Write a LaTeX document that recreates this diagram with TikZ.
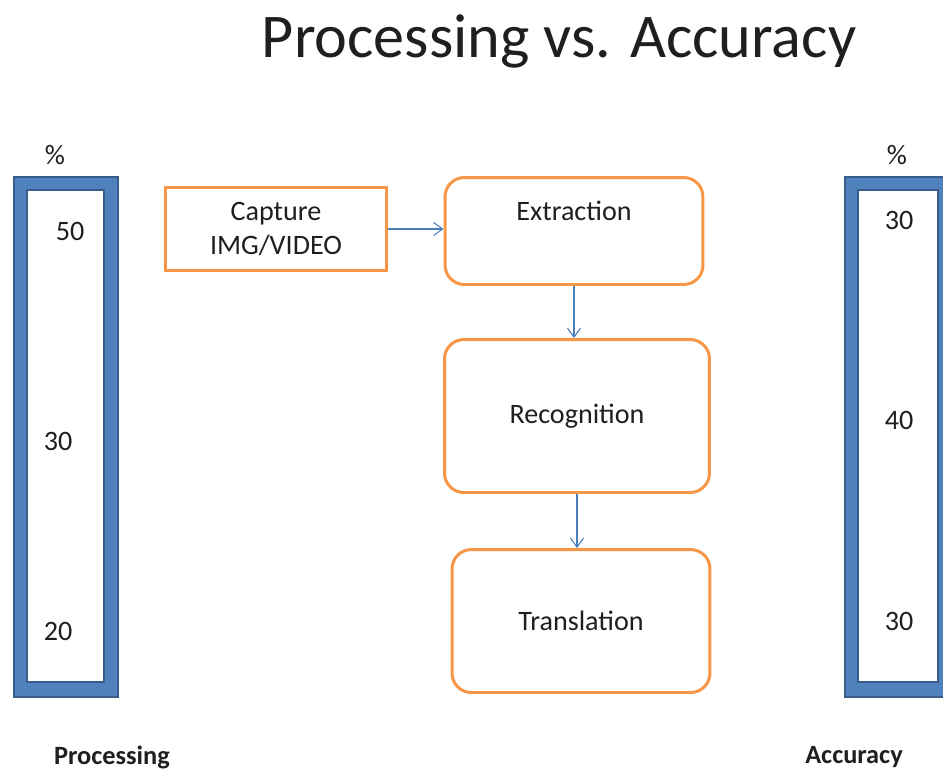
\documentclass[tikz,border=0pt]{standalone}
\usepackage{fontspec}
\setmainfont{Carlito}
\usetikzlibrary{arrows.meta,positioning}
\definecolor{ink}{HTML}{1F1F1F}
\definecolor{stepline}{HTML}{F79646}
\definecolor{barblue}{HTML}{4F81BD}
\definecolor{bardark}{HTML}{385D8A}
\definecolor{flowblue}{HTML}{4A7EBB}
\tikzset{
  every node/.style={font=\fontsize{16}{19}\selectfont, text=ink},
  capbox/.style={draw=stepline, line width=1.7pt, fill=white, align=center,
                 minimum width=4.42cm, minimum height=1.66cm},
  stagebox/.style={capbox, rounded corners=11pt},
  barframe/.style={fill=barblue, draw=bardark, line width=0.6pt, even odd rule},
  num/.style={font=\fontsize{16}{19}\selectfont},
  axis/.style={font=\bfseries\fontsize{15}{18}\selectfont},
  flow/.style={-{Straight Barb[length=1.8mm, width=2.6mm]}, draw=flowblue, line width=0.6pt},
}
\begin{document}
\begin{tikzpicture}[x=0.02cm, y=-0.02cm]
\clip (0,0) rectangle (943,772);
\fill[white] (0,0) rectangle (943,772);

\node[font=\fontsize{35.4}{42}\selectfont] (title) at (559,41) {Processing vs. Accuracy};

% --- processing bar ---
\filldraw[barframe] (14,177) rectangle (118,697) (27,190) rectangle (104,682);
\node[num] (ppct) at (55,155) {\%};
\node[num] (p50) at (70,231) {50};
\node[num] (p30) at (58,441) {30};
\node[num] (p20) at (58,631) {20};
\node[axis] (plabel) at (112,757) {Processing};

% --- accuracy bar ---
\filldraw[barframe] (845,177) rectangle (952,697) (858,190) rectangle (938,682);
\node[num] (apct) at (897,155) {\%};
\node[num] (a30t) at (899,220) {30};
\node[num] (a40) at (899,420) {40};
\node[num] (a30b) at (899,621) {30};
\node[axis] (alabel) at (854,757) {Accuracy};

% --- flow ---
\node[capbox] (capture) at (276,229) {Capture\\IMG/VIDEO};
\node[stagebox, minimum width=5.16cm, minimum height=2.14cm,
      label={[anchor=center, yshift=-0.7cm]north:Extraction}] (extract) at (574,231) {};
\node[stagebox, minimum width=5.3cm, minimum height=3.06cm] (recog) at (577,416) {Recognition};
\node[stagebox, minimum width=5.16cm, minimum height=2.86cm] (transl) at (581,621) {Translation};

\draw[flow] (capture.east) -- (capture.east -| extract.west);
\draw[flow] (extract.south) -- (extract.south |- recog.north);
\draw[flow] (recog.south) -- (recog.south |- transl.north);

\end{tikzpicture}
\end{document}
